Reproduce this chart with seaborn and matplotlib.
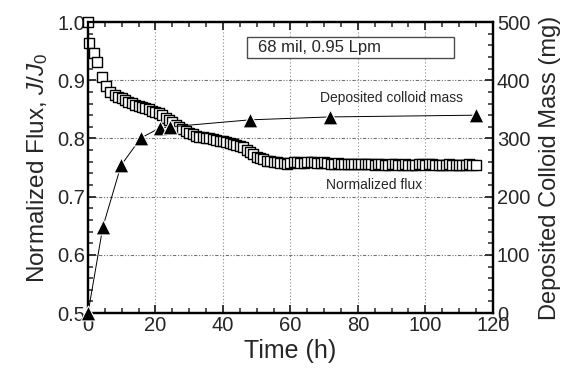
import matplotlib
matplotlib.use("Agg")
import matplotlib.pyplot as plt
import seaborn as sns
import pandas as pd
from matplotlib.ticker import MultipleLocator
from matplotlib.patches import Rectangle

# ---- data ----
flux_time = [0, 0.3, 1.8, 2.7, 4.1, 5.2, 6.5, 8] + list(range(9, 116))
flux_vals = [1.0, 0.964, 0.947, 0.931, 0.906, 0.89, 0.88, 0.875,
             0.872, 0.869, 0.866, 0.863, 0.861, 0.858, 0.856, 0.854, 0.852, 0.850,
             0.848, 0.846, 0.843, 0.840, 0.836, 0.832, 0.828, 0.824, 0.820, 0.816,
             0.812, 0.809, 0.807, 0.805, 0.803, 0.802, 0.801, 0.800, 0.799, 0.797,
             0.796, 0.795, 0.794, 0.793, 0.791, 0.789, 0.787, 0.785, 0.781, 0.777,
             0.773, 0.769, 0.766, 0.764, 0.762, 0.761, 0.760, 0.759, 0.758, 0.758,
             0.757, 0.758, 0.759, 0.759, 0.758, 0.758, 0.759, 0.760, 0.759, 0.758,
             0.758, 0.759, 0.758, 0.757, 0.757, 0.758, 0.757, 0.757, 0.756, 0.757,
             0.757, 0.756, 0.756, 0.757, 0.756, 0.756, 0.755, 0.756, 0.756, 0.755,
             0.755, 0.756, 0.756, 0.755, 0.755, 0.756, 0.755, 0.755, 0.755, 0.756,
             0.756, 0.755, 0.757, 0.756, 0.755, 0.755, 0.755, 0.755, 0.756, 0.755,
             0.755, 0.755, 0.755, 0.755, 0.756, 0.755, 0.755]
mass_time = [0, 4.4, 9.8, 15.7, 21.3, 24.3, 48, 71.7, 115]
mass_vals = [0, 148, 254, 301, 318, 320, 332, 337, 340]

x_ticks = [0, 20, 40, 60, 80, 100, 120]
y_ticks = [0.5, 0.6, 0.7, 0.8, 0.9, 1.0]
y2_ticks = [0, 100, 200, 300, 400, 500]

sns.set_style("ticks")
plt.rcParams['font.family'] = ['Liberation Sans', 'DejaVu Sans']
plt.rcParams['mathtext.fontset'] = 'custom'
plt.rcParams['mathtext.rm'] = 'Liberation Sans'
plt.rcParams['mathtext.it'] = 'Liberation Sans:italic'

fig = plt.figure(figsize=(5.79, 3.80), dpi=100)
ax = fig.add_axes([0.152, 0.176, 0.699, 0.766])
ax2 = ax.twinx()

df_f = pd.DataFrame({"t": flux_time, "f": flux_vals})
df_m = pd.DataFrame({"t": mass_time, "m": mass_vals})

# grid
for xv in x_ticks[1:-1]:
    ax.axvline(xv, color='0.55', lw=0.8, ls=(0, (1, 2)), zorder=0)
for yv in y_ticks[1:-1]:
    ax.axhline(yv, color='0.45', lw=0.8, ls=(0, (3, 1.5, 1, 1.5, 1, 1.5)), zorder=0)

sns.scatterplot(data=df_f, x="t", y="f", ax=ax, marker='s', s=52,
                facecolor='white', edgecolor='black', linewidth=1.0, zorder=3, clip_on=False)

sns.lineplot(data=df_m, x="t", y="m", ax=ax2, color='black', lw=0.7, zorder=2)
sns.scatterplot(data=df_m, x="t", y="m", ax=ax2, marker='^', s=115,
                color='black', edgecolor='white', linewidth=0.8, zorder=4, clip_on=False)

ax.set_xlim(0, 120)
ax.set_ylim(0.5, 1.0)
ax2.set_ylim(0, 500)
ax.set_xticks(x_ticks)
ax.set_yticks(y_ticks)
ax2.set_yticks(y2_ticks)
ax.set_yticklabels([f"{v:.1f}" for v in y_ticks])
ax.xaxis.set_minor_locator(MultipleLocator(5))
ax.yaxis.set_minor_locator(MultipleLocator(0.02))
ax2.yaxis.set_minor_locator(MultipleLocator(20))

ax.tick_params(axis='both', which='major', direction='in', length=6, width=1.3,
               labelsize=14.5, top=True, pad=2)
ax.tick_params(axis='both', which='minor', direction='in', length=3.5, width=1.1, top=True)
ax.tick_params(axis='x', which='both', top=True)
ax2.tick_params(axis='y', which='major', direction='in', length=6, width=1.3, labelsize=14.5, pad=3)
ax2.tick_params(axis='y', which='minor', direction='in', length=3.5, width=1.1)

for a in (ax, ax2):
    for sp in a.spines.values():
        sp.set_linewidth(1.6)
        sp.set_color('black')

ax.set_xlabel("Time (h)", fontsize=18, labelpad=3)
ax.set_ylabel("Normalized Flux, $J/J_0$", fontsize=17.5, labelpad=5)
ax2.set_ylabel("Deposited Colloid Mass (mg)", fontsize=17, labelpad=6)

ax.add_patch(Rectangle((0.393, 0.876), 0.511, 0.072, transform=ax.transAxes,
                       facecolor='white', edgecolor='0.3', lw=1.0, zorder=5))
ax.text(0.42, 0.912, "68 mil, 0.95 Lpm", transform=ax.transAxes, fontsize=12,
        va='center', ha='left', zorder=6)
ax.text(68.7, 0.869, "Deposited colloid mass", fontsize=10, va='center', ha='left', zorder=6)
ax.text(70.5, 0.72, "Normalized flux", fontsize=10, va='center', ha='left', zorder=6)

fig.savefig("out.png", dpi=100)
